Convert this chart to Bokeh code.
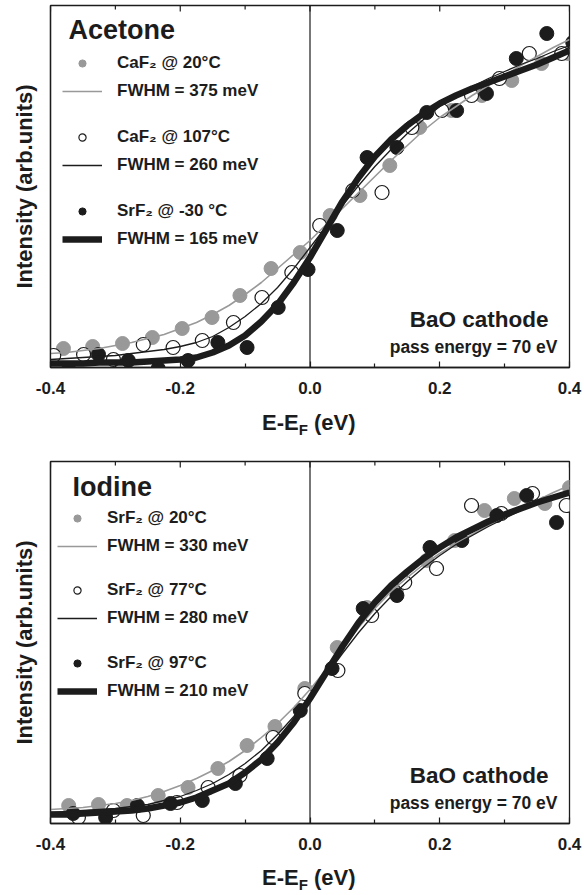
from bokeh.core.properties import value
from bokeh.layouts import column
from bokeh.models import (Div, FixedTicker, Label, Legend, LegendItem,
                          NumeralTickFormatter, Range1d, Span)
from bokeh.plotting import figure
from bokeh.embed import file_html
from bokeh.resources import INLINE

# ---------------- data ----------------
x_ticks = [-0.4, -0.2, 0.0, 0.2, 0.4]
x_tick_labels = ["-0.4", "-0.2", "0.0", "0.2", "0.4"]
x_minor_ticks = [-0.3, -0.1, 0.1, 0.3]

fit_x = [-0.4, -0.375, -0.35, -0.325, -0.3, -0.275, -0.25, -0.225, -0.2, -0.175,
         -0.15, -0.125, -0.1, -0.075, -0.05, -0.025, 0.0, 0.025, 0.05, 0.075,
         0.1, 0.125, 0.15, 0.175, 0.2, 0.225, 0.25, 0.275, 0.3, 0.325, 0.35, 0.375, 0.4]

# Acetone panel
ace_gray_x = [-0.380, -0.335, -0.289, -0.243, -0.197, -0.151, -0.108, -0.060, -0.015,
              0.031, 0.077, 0.123, 0.169, 0.218, 0.265, 0.311, 0.357, 0.398]
ace_gray_y = [19, 21, 24, 30, 39, 50, 72, 99, 115, 152, 172, 202, 240, 257, 272, 287, 304, 314]
ace_open_x = [-0.395, -0.349, -0.303, -0.257, -0.211, -0.166, -0.118, -0.074, -0.028,
              0.015, 0.066, 0.111, 0.157, 0.203, 0.249, 0.292, 0.338, 0.388]
ace_open_y = [12, 13, 8, 23, 20, 27, 45, 70, 95, 142, 177, 175, 240, 257, 272, 289, 314, 314]
ace_black_x = [-0.372, -0.326, -0.280, -0.234, -0.188, -0.142, -0.097, -0.049, -0.003,
               0.042, 0.088, 0.134, 0.180, 0.226, 0.272, 0.318, 0.365, 0.405]
ace_black_y = [-2, 13, 7, -1, 7, 25, 20, 60, 98, 137, 210, 220, 255, 257, 274, 309, 334, 325]
ace_fit_gray = [14, 15, 17, 19, 22, 25, 29, 33, 39, 45, 53, 62, 73, 85, 99, 113, 127,
                143, 159, 175, 191, 207, 222, 237, 250, 261, 272, 282, 292, 302, 311, 320, 328]
ace_fit_thin = [8, 9, 10, 11, 12, 14, 16, 18, 21, 25, 31, 40, 51, 64, 80, 99, 120,
                141, 162, 182, 201, 218, 234, 248, 261, 272, 281, 289, 296, 303, 309, 316, 322]
ace_fit_thick = [4, 4, 4, 5, 5, 5, 6, 7, 8, 10, 15, 22, 32, 46, 63, 85, 110,
                 138, 166, 190, 211, 228, 242, 254, 264, 272, 279, 285, 291, 297, 303, 310, 317]
ace_samples = ["CaF\u2082 @ 20\u00b0C", "CaF\u2082 @ 107\u00b0C", "SrF\u2082 @ -30 \u00b0C"]
ace_fwhm = ["FWHM = 375 meV", "FWHM = 260 meV", "FWHM = 165 meV"]

# Iodine panel
iod_gray_x = [-0.372, -0.326, -0.282, -0.234, -0.188, -0.142, -0.097, -0.054, -0.008,
              0.042, 0.088, 0.134, 0.180, 0.223, 0.269, 0.315, 0.362, 0.400]
iod_gray_y = [18, 19, 18, 28, 36, 55, 78, 97, 135, 176, 216, 235, 263, 283, 313, 325, 320, 336]
iod_open_x = [-0.357, -0.303, -0.257, -0.205, -0.157, -0.108, -0.057, -0.008,
              0.043, 0.095, 0.146, 0.195, 0.249, 0.295, 0.343, 0.395]
iod_open_y = [6, 13, 8, 21, 36, 48, 86, 130, 153, 208, 241, 255, 318, 310, 330, 318]
iod_black_x = [-0.365, -0.315, -0.266, -0.215, -0.166, -0.115, -0.066, -0.015,
               0.034, 0.082, 0.134, 0.185, 0.234, 0.288, 0.334, 0.380]
iod_black_y = [10, 6, 18, 20, 23, 40, 65, 113, 155, 215, 228, 276, 283, 308, 328, 301]
iod_fit_gray = [14, 15, 16, 18, 20, 23, 27, 32, 38, 45, 53, 62, 73, 86, 100, 116, 134,
                154, 175, 196, 215, 232, 246, 259, 270, 280, 289, 298, 307, 315, 323, 331, 338]
iod_fit_thin = [11, 12, 13, 14, 15, 17, 19, 23, 27, 33, 40, 49, 60, 73, 89, 107, 127,
                148, 170, 191, 210, 227, 242, 256, 268, 279, 288, 297, 305, 313, 320, 327, 333]
iod_fit_thick = [9, 9, 10, 11, 12, 13, 15, 18, 21, 26, 33, 40, 51, 64, 81, 101, 125,
                 151, 177, 201, 221, 238, 252, 265, 276, 286, 294, 302, 309, 315, 321, 326, 331]
iod_samples = ["SrF\u2082 @ 20\u00b0C", "SrF\u2082 @ 77\u00b0C", "SrF\u2082 @ 97\u00b0C"]
iod_fwhm = ["FWHM = 330 meV", "FWHM = 280 meV", "FWHM = 210 meV"]

y_label = "Intensity (arb.units)"
x_label_main, x_label_sub, x_label_unit = "E-E", "F", " (eV)"

# ---------------- style ----------------
FONT = "Liberation Sans"
INK = "#1c1c1c"
GRAY = "#999999"
FRAME_H = 362
Y_TOP = 362


def txt(p, text, x, y, size, align="left"):
    p.add_layout(Label(x=x, y=y, x_units="screen", y_units="screen", text=text,
                       text_font=FONT, text_font_size=size, text_font_style="bold",
                       text_color=INK, text_align=align, text_baseline="middle"))


def make_panel(title, gx, gy, ox, oy, bx, by, fg, ft, fk, samples, fwhm,
               height, b_top, b_bottom, leg_x, leg_standoff, leg_tops, title_x, title_mid):
    p = figure(width=584, height=height, x_range=Range1d(-0.4, 0.4),
               y_range=Range1d(0, Y_TOP), output_backend="svg", toolbar_location=None,
               min_border_left=50, min_border_right=15, min_border_top=b_top,
               min_border_bottom=b_bottom)
    p.grid.visible = False
    p.outline_line_color = INK
    p.outline_line_width = 1.3
    p.background_fill_color = "white"
    p.border_fill_color = "white"

    xa = p.xaxis[0]
    xa.ticker = FixedTicker(ticks=x_ticks, minor_ticks=x_minor_ticks)
    xa.formatter = NumeralTickFormatter(format="0.0")
    xa.major_label_overrides = dict(zip(x_ticks, x_tick_labels))
    xa.major_tick_in = 6
    xa.major_tick_out = 0
    xa.minor_tick_in = 4
    xa.minor_tick_out = 0
    xa.major_label_standoff = 14
    xa.major_label_text_font = FONT
    xa.major_label_text_font_size = "17px"
    xa.major_label_text_font_style = "bold"
    xa.major_label_text_color = INK
    xa.axis_line_color = INK
    xa.axis_line_width = 1.3
    xa.major_tick_line_color = INK
    xa.minor_tick_line_color = INK
    xa.major_tick_line_width = 1.2
    xa.minor_tick_line_width = 1.2

    ya = p.yaxis[0]
    ya.ticker = FixedTicker(ticks=[])
    ya.axis_line_color = INK
    ya.axis_line_width = 1.3
    ya.major_tick_line_color = None
    ya.minor_tick_line_color = None
    ya.axis_label = y_label
    ya.axis_label_text_font = FONT
    ya.axis_label_text_font_size = "22px"
    ya.axis_label_text_font_style = "bold"
    ya.axis_label_text_color = INK
    ya.axis_label_standoff = 14

    # inward ticks on the top edge of the frame
    p.segment(x0=x_ticks, y0=[Y_TOP] * len(x_ticks), x1=x_ticks,
              y1=[Y_TOP - 6] * len(x_ticks), line_color=INK, line_width=1.2)
    p.segment(x0=x_minor_ticks, y0=[Y_TOP] * len(x_minor_ticks), x1=x_minor_ticks,
              y1=[Y_TOP - 4] * len(x_minor_ticks), line_color=INK, line_width=1.2)

    p.add_layout(Span(location=0, dimension="height", line_color=INK,
                      line_width=1.2, level="underlay"))

    # data points
    sg = p.scatter(gx, gy, size=14, fill_color=GRAY, line_color=GRAY)
    so = p.scatter(ox, oy, size=14, fill_color="white", line_color=INK, line_width=1.2)
    sk = p.scatter(bx, by, size=14, fill_color=INK, line_color=INK)
    # fitted curves
    lg = p.line(fit_x, fg, line_color=GRAY, line_width=1.6)
    lt = p.line(fit_x, ft, line_color=INK, line_width=1.3)
    lk = p.line(fit_x, fk, line_color=INK, line_width=6.5)

    for (pts, line, s, f, t) in zip([sg, so, sk], [lg, lt, lk], samples, fwhm, leg_tops):
        leg = Legend(items=[LegendItem(label=value(s), renderers=[pts]),
                            LegendItem(label=value(f), renderers=[line])],
                     location=(leg_x, FRAME_H - (t + 48)), orientation="vertical",
                     padding=0, margin=0, spacing=8, glyph_width=40, glyph_height=18,
                     label_height=20, label_standoff=leg_standoff,
                     label_text_font=FONT, label_text_font_size="17px",
                     label_text_font_style="bold", label_text_color=INK,
                     border_line_alpha=0, background_fill_alpha=0)
        p.add_layout(leg)

    txt(p, title, title_x, FRAME_H - title_mid, "27px")
    txt(p, "BaO cathode", 498, 48, "22.5px", align="right")
    txt(p, "pass energy = 70 eV", 507, 21, "17.5px", align="right")
    return p


def x_label_div(height, pad_top):
    html = ('<div style="padding-left:262px; padding-top:%dpx; white-space:nowrap; '
            'font-family:\'Liberation Sans\', Arial, sans-serif; font-weight:bold; '
            'font-size:22px; line-height:normal; color:%s;">%s'
            '<span style="font-size:15px; position:relative; top:5px;">%s</span>%s</div>'
            % (pad_top, INK, x_label_main, x_label_sub, x_label_unit.replace(" ", "&nbsp;")))
    return Div(text=html, width=584, height=height, margin=(0, 0, 0, 0))


p1 = make_panel("Acetone", ace_gray_x, ace_gray_y, ace_open_x, ace_open_y,
                ace_black_x, ace_black_y, ace_fit_gray, ace_fit_thin, ace_fit_thick,
                ace_samples, ace_fwhm, height=405, b_top=5, b_bottom=38,
                leg_x=12, leg_standoff=15, leg_tops=[48, 122, 196],
                title_x=18, title_mid=24)
d1 = x_label_div(50, 5)
p2 = make_panel("Iodine", iod_gray_x, iod_gray_y, iod_open_x, iod_open_y,
                iod_black_x, iod_black_y, iod_fit_gray, iod_fit_thin, iod_fit_thick,
                iod_samples, iod_fwhm, height=406, b_top=6, b_bottom=38,
                leg_x=7, leg_standoff=10, leg_tops=[47, 119, 192],
                title_x=22, title_mid=25)
d2 = x_label_div(34, 4)

layout = column(p1, d1, p2, d2, spacing=0)
open("out.html", "w").write(file_html(layout, INLINE))
